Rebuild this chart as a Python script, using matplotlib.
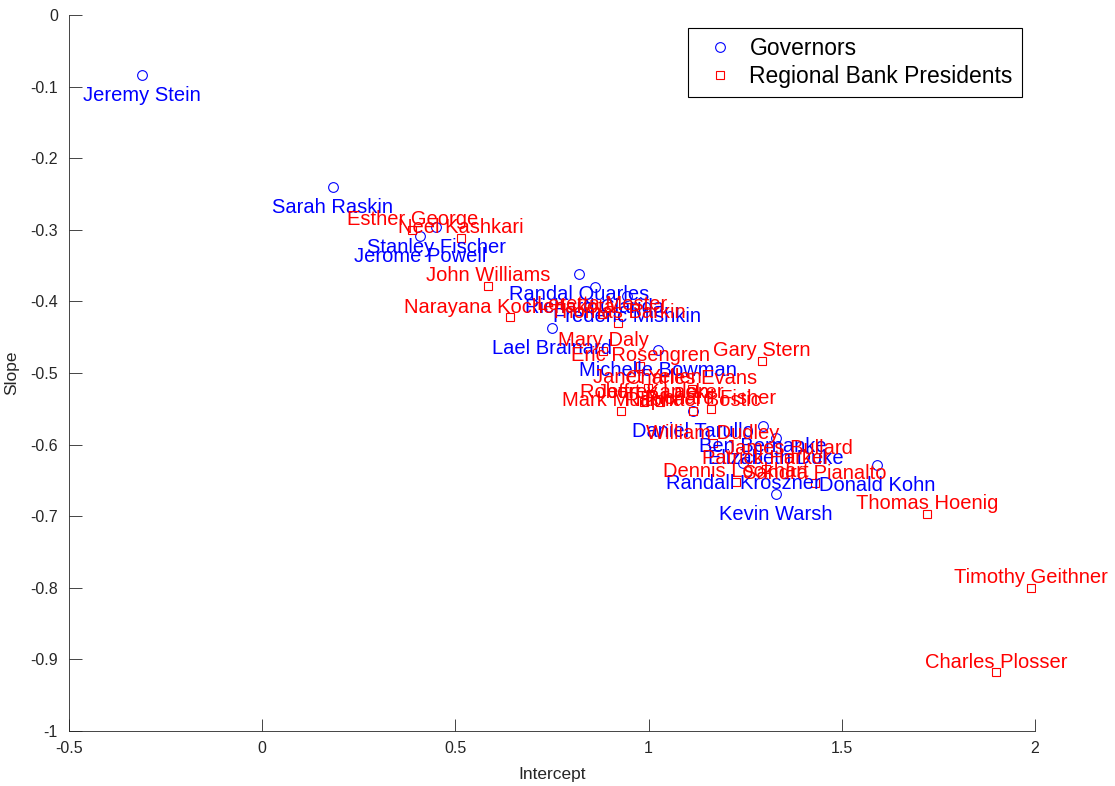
"""
Intercept vs slope per FOMC participant
"""
import matplotlib
matplotlib.use("Agg")
import matplotlib.pyplot as plt
import numpy as np

plt.rcParams['font.family'] = ['Liberation Sans', 'DejaVu Sans']

# Board governors
gov_names = ['Jeremy Stein', 'Sarah Raskin', 'Stanley Fischer', 'Jerome Powell',
             'Randal Quarles', 'Richard Clarida', 'Frederic Mishkin', 'Lael Brainard',
             'Michelle Bowman', 'Daniel Tarullo', 'Ben Bernanke', 'Elizabeth Duke',
             'Randall Kroszner', 'Donald Kohn', 'Kevin Warsh']
gov_intercept = [-0.311, 0.183, 0.450, 0.408, 0.820, 0.861, 0.944, 0.750,
                 1.024, 1.115, 1.296, 1.330, 1.244, 1.591, 1.330]
gov_slope = [-0.084, -0.240, -0.296, -0.309, -0.362, -0.380, -0.392, -0.437,
             -0.468, -0.553, -0.574, -0.591, -0.626, -0.628, -0.669]

# Regional bank presidents
reg_names = ['Esther George', 'Neel Kashkari', 'John Williams', 'Narayana Kocherlakota',
             'Loretta Mester', 'Thomas Barkin', 'Mary Daly', 'Eric Rosengren',
             'Gary Stern', 'Janet Yellen', 'Charles Evans', 'Robert Kaplan',
             'Jeffrey Lacker', 'Mark Mullinix', 'Raphael Bostic', 'Richard Fisher',
             'William Dudley', 'James Bullard', 'Patrick Harker', 'Dennis Lockhart',
             'Sandra Pianalto', 'Thomas Hoenig', 'Timothy Geithner', 'Charles Plosser']
reg_intercept = [0.388, 0.514, 0.584, 0.641, 0.879, 0.920, 0.882, 0.978,
                 1.293, 0.998, 1.112, 0.988, 1.029, 0.928, 1.115, 1.161,
                 1.167, 1.363, 1.304, 1.226, 1.431, 1.720, 1.990, 1.899]
reg_slope = [-0.300, -0.311, -0.378, -0.422, -0.418, -0.430, -0.469, -0.490,
             -0.483, -0.521, -0.522, -0.541, -0.541, -0.553, -0.553, -0.550,
             -0.598, -0.619, -0.634, -0.652, -0.654, -0.697, -0.800, -0.918]

fig = plt.figure(figsize=(11.15, 7.86), dpi=100)
ax = fig.add_axes([0.0619, 0.07, 0.8664, 0.911])

ax.plot(gov_intercept, gov_slope, 'o', mfc='none', mec='b', ms=7, mew=0.8,
        label='Governors')
ax.plot(reg_intercept, reg_slope, 's', mfc='none', mec='r', ms=6, mew=0.8,
        label='Regional Bank Presidents')

for name, x, y in zip(gov_names, gov_intercept, gov_slope):
    ax.text(x, y - 0.029, name, color='b', ha='center', va='center', fontsize=14.5)
for name, x, y in zip(reg_names, reg_intercept, reg_slope):
    ax.text(x, y + 0.014, name, color='r', ha='center', va='center', fontsize=14.5)

ax.set_xlim(-0.5, 2)
ax.set_ylim(-1, 0)
ax.set_xticks(np.arange(-0.5, 2.01, 0.5))
ax.set_xticklabels(['-0.5', '0', '0.5', '1', '1.5', '2'])
ax.set_yticks(np.arange(-1, 0.01, 0.1))
ax.set_yticklabels(['-1', '-0.9', '-0.8', '-0.7', '-0.6', '-0.5', '-0.4',
                    '-0.3', '-0.2', '-0.1', '0'])
ax.tick_params(direction='in', length=9, width=0.6, labelsize=11.5, colors='#262626')
ax.tick_params(axis='y', pad=8)
ax.tick_params(axis='x', pad=7)
for s in ['top', 'right']:
    ax.spines[s].set_visible(False)
for s in ['left', 'bottom']:
    ax.spines[s].set_linewidth(0.6)
    ax.spines[s].set_color('#262626')
ax.set_xlabel('Intercept', fontsize=12.5, color='#262626', labelpad=8)
ax.set_ylabel('Slope', fontsize=12.5, color='#262626', labelpad=8)

leg = ax.legend(loc='upper right', bbox_to_anchor=(0.9865, 0.982), borderaxespad=0,
                fontsize=16.5, fancybox=False, framealpha=1, edgecolor='k',
                handletextpad=0.3, handlelength=2.0, borderpad=0.4, labelspacing=0.2)
leg.get_frame().set_linewidth(0.8)

fig.savefig('out.png', dpi=100)
